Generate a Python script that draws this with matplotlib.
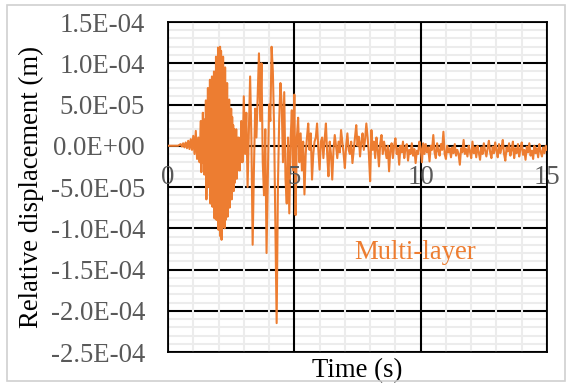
import numpy as np
import matplotlib
matplotlib.use("Agg")
import matplotlib.pyplot as plt
from matplotlib.ticker import MultipleLocator, FuncFormatter
from matplotlib.patches import Rectangle

plt.rcParams['font.family'] = ['Liberation Serif', 'DejaVu Serif']

# relative displacement, in 1E-05 m
# before the main burst: 0.00 .. 1.25 s, dt = 0.05 s
pre_e5 = [
    0.0, 0.0, 0.0, 0.0, 0.0, 0.0, 0.0, 0.0, 0.0, 0.1,
    0.2, -0.1, 0.3, -0.2, 0.4, -0.3, 0.6, -0.4, 0.8, -0.5,
    1.2, -1.0, 1.8, -1.6, 1.0, -2.0,
]
# main burst: 1.30 .. 2.88 s, dt = 0.02 s
burst_e5 = [
    3.0, -3.2, 1.5, -2.0, 4.0, -1.0, 2.5, -3.5, 3.2, -2.4,
    5.5, -6.5, 3.0, -4.0, 7.0, -5.0, 4.5, -3.0, 8.0, -7.0,
    5.0, -6.0, 8.4, -7.4, 6.0, -4.5, 9.0, -8.8, 7.0, -6.5,
    10.8, -9.0, 8.0, -7.0, 11.9, -10.2, 9.5, -8.0, 12.0, -11.0,
    11.5, -11.4, 8.5, -9.0, 10.8, -9.8, 7.5, -10.0, 9.5, -9.0,
    6.5, -7.0, 7.6, -8.6, 5.0, -6.5, 5.6, -7.5, 3.5, -5.0,
    4.5, -6.5, 3.5, -4.5, 2.5, -5.5, 2.0, -4.5, 1.5, -3.5,
    2.0, -4.0, 0.5, -3.0, 1.0, -2.5, 0.0, -3.0, 1.0, -2.0,
]
# after the burst: 2.90 .. 15.00 s, dt = 0.05 s
post_e5 = [
    3.0, -2.0,
    6.0, -1.0, 4.0, -5.0, 2.0, 8.4, 1.0, -12.0, -3.0, 4.5,
    1.0, 6.0, 11.2, 3.0, 10.0, -2.0, -6.0, 2.0, -13.0, -4.0,
    5.0, 3.0, 12.0, 9.0, 2.0, -10.0, -21.5, -5.0, 3.0, 7.6,
    5.0, -2.0, 6.5, -4.0, -7.0, 1.0, -8.2, 0.5, 4.3, -3.0,
    6.2, -8.4, 1.0, 3.4, -2.0, 1.5, -3.0, 0.5, -5.9, -1.0,
    1.0, 2.7, -0.5, 1.5, -4.1, -1.0, 0.5, 1.0, 2.7, -0.5,
    -2.9, 0.5, 1.0, -1.5, 0.8, 2.7, -1.0, -3.7, 0.5, -1.0,
    -4.1, -0.5, 1.3, 0.0, -1.5, 0.5, -0.8, 1.9, 0.5, -1.0,
    -2.7, 0.0, 1.5, -0.5, -1.0, 0.5, -2.1, -0.5, 1.0, 2.5,
    0.0, 1.1, -1.3, 0.5, 1.5, -0.5, 0.8, 2.7, 1.0, -1.0,
    -4.3, 1.9, -0.5, 0.5, -1.5, 1.0, -0.5, -2.5, 0.3, 1.3,
    -1.0, 0.5, -0.5, -1.5, 0.0, -3.1, -0.5, 0.3, -1.5, 0.0,
    0.9, -1.0, -0.3, -2.3, 0.0, -0.8, 0.5, -1.5, -0.3, 0.2,
    -1.8, -0.5, -1.0, 0.3, -1.2, -0.4, -2.1, -0.6, -1.0, 0.5,
    -0.3, -2.0, 0.3, -1.0, 0.2, -0.8, -0.2, -1.9, 0.0, -0.5,
    1.3, -0.8, -1.5, 0.3, -0.6, -1.2, 0.2, -0.5, 1.7, -1.0,
    -1.6, 0.0, -0.8, -0.3, -1.4, -0.2, -0.9, 0.2, -1.2, -0.5,
    -1.0, -2.3, -0.3, -0.8, 0.7, -1.0, -0.4, -1.3, 0.0, -0.7,
    -1.5, 0.5, -0.9, -0.2, -1.4, 0.0, -0.8, -1.7, -0.2, -1.0,
    0.3, -0.6, -1.3, -0.3, 0.6, -0.8, -1.5, -0.1, -0.9, 0.4,
    -0.6, -1.4, 0.2, -0.9, -0.3, 0.7, -1.0, -1.8, -0.2, -0.7,
    0.3, -1.2, -0.5, 0.5, -1.5, -0.3, -0.9, 0.2, -1.3, -0.4,
    0.4, -1.1, -0.5, -1.7, -0.1, -0.8, 0.3, -1.2, -0.6, -1.6,
    0.0, -0.9, -0.3, -1.4, 0.2, -0.7, -1.3, -0.2, -0.9, 0.0,
    -0.5,
]

t_pre = np.arange(len(pre_e5)) * 0.05
t_burst = 1.30 + np.arange(len(burst_e5)) * 0.02
t_post = 2.90 + np.arange(len(post_e5)) * 0.05
time = np.concatenate([t_pre, t_burst, t_post])
disp = np.array(pre_e5 + burst_e5 + post_e5) * 1e-5

x_ticks = [0, 5, 10, 15]
label = "Multi-layer"
orange = "#ED7D31"
gray = "#595959"
fs = 19.3

fig = plt.figure(figsize=(5.68, 3.83), dpi=100)
fig.patches.append(Rectangle((7 / 568, 2 / 383), 558 / 568, 376 / 383,
                             transform=fig.transFigure, fill=False,
                             edgecolor="#d0d0d0", linewidth=1.2))
ax = fig.add_axes([168 / 568, 31 / 383, 379 / 568, 330 / 383])

ax.plot(time, disp, color=orange, linewidth=1.5, zorder=3)

ax.set_xlim(0, 15)
ax.set_ylim(-2.5e-4, 1.5e-4)
ax.xaxis.set_major_locator(MultipleLocator(5))
ax.xaxis.set_minor_locator(MultipleLocator(1))
ax.yaxis.set_major_locator(MultipleLocator(5e-5))
ax.yaxis.set_minor_locator(MultipleLocator(1e-5))
ax.yaxis.set_major_formatter(FuncFormatter(lambda v, p: f"{v:.1E}"))

ax.grid(which="major", color="black", linewidth=1.5)
ax.grid(which="minor", color="#ececec", linewidth=1.5)
ax.yaxis.set_zorder(0.5)
ax.xaxis.set_zorder(0.6)

ax.tick_params(which="both", length=0)
ax.tick_params(axis="y", labelsize=fs, labelcolor=gray, pad=16.5)
ax.tick_params(axis="x", labelbottom=False)
for s in ax.spines.values():
    s.set_color("black")
    s.set_linewidth(1.3)

for t in x_ticks:
    ax.text(t, -3.8e-5, str(t), ha="center", va="center",
            fontsize=fs, color=gray, zorder=4)

ax.set_xlabel("Time (s)", fontsize=fs, labelpad=1)
ax.set_ylabel("Relative displacement (m)", fontsize=fs, labelpad=5)
ax.text(9.77, -13.7e-5, label, ha="center", va="baseline",
        fontsize=fs, color=orange, zorder=4)

fig.savefig("out.png", dpi=100)
